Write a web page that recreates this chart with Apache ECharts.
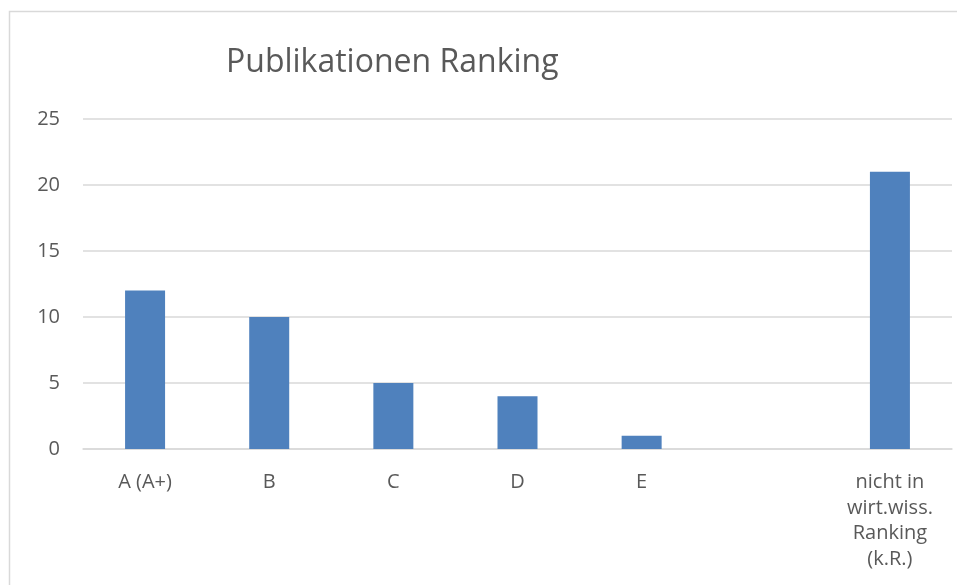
<!DOCTYPE html>
<html><head><meta charset="utf-8">
<script src="https://cdn.jsdelivr.net/npm/echarts@6/dist/echarts.min.js"></script>
<style>html,body{margin:0;padding:0;background:#fff}#c{width:957px;height:585px}</style>
</head><body><div id="c"></div>
<script>
const title = "Publikationen Ranking";
const categories = ["A (A+)", "B", "C", "D", "E", "", "nicht in\nwirt.wiss.\nRanking\n(k.R.)"];
const values = [12, 10, 5, 4, 1, null, 21];
const yMin = 0, yMax = 25, yStep = 5;

const chart = echarts.init(document.getElementById('c'), null, {renderer: 'canvas'});
const font = "'Open Sans', 'Liberation Sans', sans-serif";
chart.setOption({
  animation: false,
  backgroundColor: '#ffffff',
  title: {
    text: title, left: 221, top: 42,
    textStyle: {fontFamily: font, fontSize: 32, fontWeight: 'normal', color: '#595959'}
  },
  graphic: [{
    type: 'rect', shape: {x: 9.5, y: 11.5, width: 960, height: 600},
    style: {fill: 'none', stroke: '#d9d9d9', lineWidth: 1.5}, silent: true
  }],
  grid: {left: 83, right: 5, top: 119, bottom: 136},
  xAxis: {
    type: 'category', data: categories,
    axisTick: {show: false},
    axisLine: {lineStyle: {color: '#d9d9d9', width: 1.5}},
    axisLabel: {fontFamily: font, fontSize: 20, color: '#595959', margin: 21, lineHeight: 25.5, interval: 0}
  },
  yAxis: {
    type: 'value', min: yMin, max: yMax, interval: yStep,
    axisLine: {show: false}, axisTick: {show: false},
    splitLine: {lineStyle: {color: '#d9d9d9', width: 1.5}},
    axisLabel: {fontFamily: font, fontSize: 20, color: '#595959', margin: 23}
  },
  series: [{
    type: 'bar', data: values, barWidth: 40,
    itemStyle: {color: '#4f81bd'}
  }]
});
</script></body></html>
